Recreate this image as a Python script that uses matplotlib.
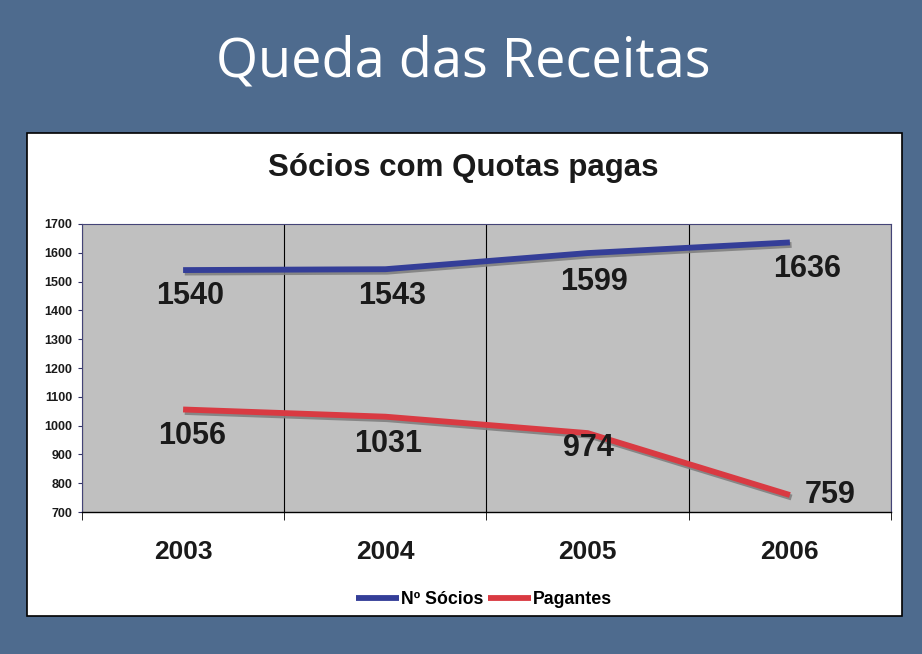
import matplotlib.pyplot as plt
import matplotlib.patheffects as pe
from matplotlib.patches import Rectangle
from matplotlib.lines import Line2D

# dados
anos = ['2003', '2004', '2005', '2006']
socios = [1540, 1543, 1599, 1636]
pagantes = [1056, 1031, 974, 759]
yticks = list(range(700, 1800, 100))

fundo = '#4e6b8e'
azul = '#343e98'
vermelho = '#d93a42'

fig = plt.figure(figsize=(9.22, 6.54), dpi=100)
fig.patch.set_facecolor(fundo)

# caixa branca do gráfico
caixa = Rectangle((0.0293, 0.058), 0.9487, 0.739, transform=fig.transFigure,
                  facecolor='white', edgecolor='black', linewidth=1.2, zorder=-10)
fig.patches.append(caixa)

fig.text(0.502, 0.905, 'Queda das Receitas', color='white', fontsize=39,
         family='Open Sans', ha='center', va='center')
fig.text(0.502, 0.743, 'Sócios com Quotas pagas', color='#1a1a1a', fontsize=22.5,
         family='Liberation Sans', weight='bold', ha='center', va='center')

ax = fig.add_axes([0.0889, 0.2171, 0.8775, 0.4404])
ax.set_facecolor('#c0c0c0')

x = list(range(len(anos)))
sombra = [pe.SimpleLineShadow(offset=(1.2, -1.8), shadow_color='#808080', alpha=0.9),
          pe.Normal()]
ax.plot(x, socios, color=azul, linewidth=4.2, solid_capstyle='butt',
        path_effects=sombra, zorder=3)
ax.plot(x, pagantes, color=vermelho, linewidth=4.2, solid_capstyle='butt',
        path_effects=sombra, zorder=3)

# rótulos dos valores (deslocamentos em pontos)
desl_s = [(5, -18.5), (5, -19), (4.3, -20.5), (12.5, -19)]
desl_p = [(6.5, -19), (2, -19.5), (0.7, -11), (29, 0)]
rot = dict(fontsize=22, weight='bold', family='Liberation Sans', color='#1a1a1a',
           ha='center', va='center', zorder=4)
for i, v in enumerate(socios):
    ax.annotate(str(v), (x[i], v), xytext=desl_s[i], textcoords='offset points', **rot)
for i, v in enumerate(pagantes):
    ax.annotate(str(v), (x[i], v), xytext=desl_p[i], textcoords='offset points', **rot)

ax.set_xlim(-0.5, 3.5)
ax.set_ylim(700, 1700)
ax.set_yticks(yticks)
ax.set_xticks(x)
ax.set_xticklabels(anos)
ax.set_xticks([-0.5, 0.5, 1.5, 2.5, 3.5], minor=True)
ax.tick_params(axis='x', which='major', length=0, pad=20, labelsize=19)
ax.tick_params(axis='x', which='minor', length=6, direction='out', color='black')
ax.tick_params(axis='y', length=3, color='#333366', labelsize=9, pad=4)
for lab in ax.get_xticklabels() + ax.get_yticklabels():
    lab.set_family('Liberation Sans')
    lab.set_weight('bold')
    lab.set_color('#1a1a1a')
ax.grid(axis='x', which='minor', color='black', linewidth=0.8)
ax.set_axisbelow(True)
for s in ['top', 'right', 'left']:
    ax.spines[s].set_color('#444477')
    ax.spines[s].set_linewidth(0.8)
ax.spines['bottom'].set_color('black')
ax.spines['bottom'].set_linewidth(1)

handles = [Line2D([], [], color=azul, linewidth=4.2, solid_capstyle='butt'),
           Line2D([], [], color=vermelho, linewidth=4.2, solid_capstyle='butt')]
fig.legend(handles, ['Nº Sócios', 'Pagantes'], loc='center',
           bbox_to_anchor=(0.525, 0.083), ncol=2, frameon=False,
           handlelength=2.4, handletextpad=0.1, columnspacing=0.3,
           prop={'family': 'Liberation Sans', 'weight': 'bold', 'size': 12.8})

fig.savefig('out.png', dpi=100, facecolor=fundo)
